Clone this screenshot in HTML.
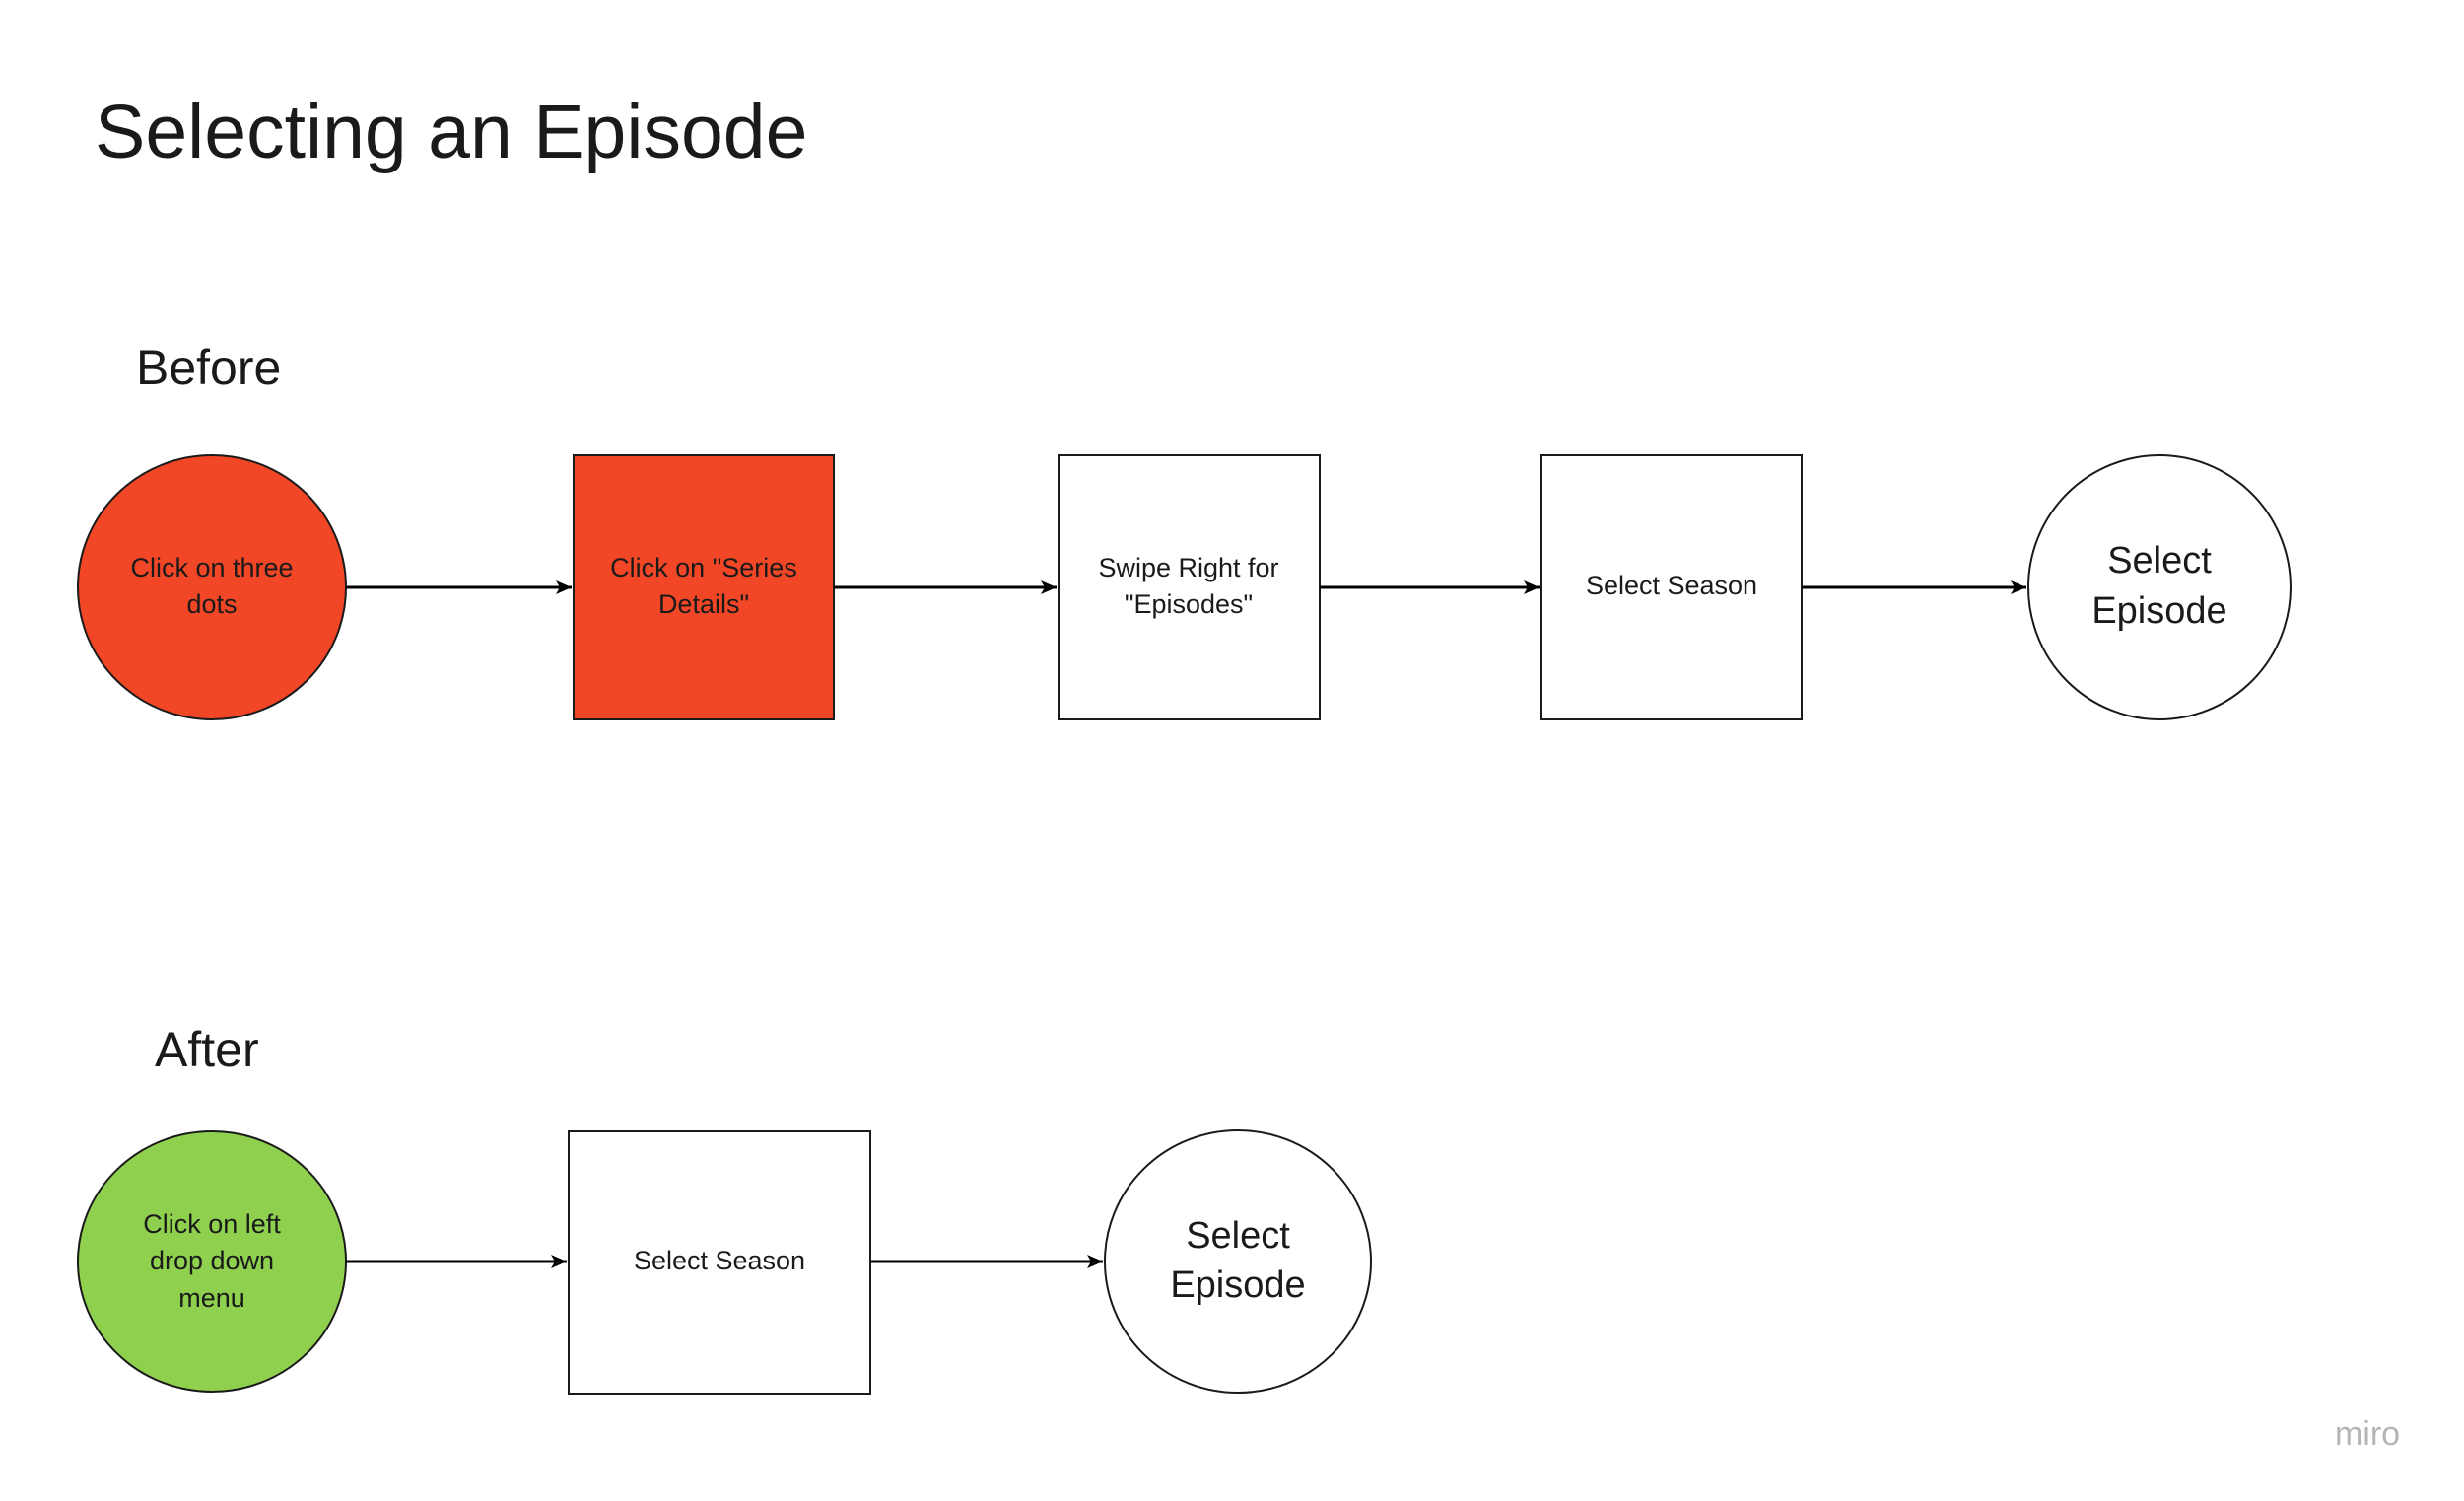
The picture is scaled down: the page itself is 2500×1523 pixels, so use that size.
<!DOCTYPE html>
<html><head><meta charset="utf-8"><style>
html,body{margin:0;padding:0;background:#fff;}
body{width:2500px;height:1523px;position:relative;overflow:hidden;font-family:"Liberation Sans",sans-serif;color:#1a1a1a;}
</style></head><body>
<svg width="2500" height="1523" viewBox="0 0 2500 1523" xmlns="http://www.w3.org/2000/svg" style="position:absolute;left:0;top:0">
<defs><marker id="b" markerWidth="16" markerHeight="14" refX="16" refY="7" orient="auto" markerUnits="userSpaceOnUse"><path d="M0,0 L16,7 L0,14 L4,7 Z" fill="#000"/></marker></defs>
<g font-family="Liberation Sans, sans-serif" fill="#1a1a1a">
<text x="96" y="160" font-size="77">Selecting an Episode</text>
<text x="138" y="390" font-size="50">Before</text>
<text x="157" y="1082" font-size="50">After</text>
</g>
<g stroke="#1a1a1a" stroke-width="2">
<ellipse cx="215" cy="596" rx="136" ry="134" fill="#f24726"/>
<rect x="582" y="462" width="264" height="268" fill="#f24726"/>
<rect x="1074" y="462" width="265" height="268" fill="#fff"/>
<rect x="1564" y="462" width="264" height="268" fill="#fff"/>
<ellipse cx="2191" cy="596" rx="133" ry="134" fill="#fff"/>
<ellipse cx="215" cy="1280" rx="136" ry="132" fill="#8fd14f"/>
<rect x="577" y="1148" width="306" height="266" fill="#fff"/>
<ellipse cx="1256" cy="1280" rx="135" ry="133" fill="#fff"/>
</g>
<g stroke="#000" stroke-width="3" marker-end="url(#b)">
<line x1="351" y1="596" x2="580" y2="596"/>
<line x1="846" y1="596" x2="1072" y2="596"/>
<line x1="1339" y1="596" x2="1562" y2="596"/>
<line x1="1828" y1="596" x2="2056" y2="596"/>
<line x1="351" y1="1280" x2="575" y2="1280"/>
<line x1="883" y1="1280" x2="1119" y2="1280"/>
</g>
<g font-family="Liberation Sans, sans-serif" font-size="27" text-anchor="middle" fill="#1a1a1a">
<text x="215" y="585">Click on three</text><text x="215" y="622">dots</text>
<text x="714" y="585">Click on "Series</text><text x="714" y="622">Details"</text>
<text x="1206" y="585">Swipe Right for</text><text x="1206" y="622">"Episodes"</text>
<text x="1696" y="603">Select Season</text>
<text x="215" y="1251">Click on left</text><text x="215" y="1288">drop down</text><text x="215" y="1326">menu</text>
<text x="730" y="1288">Select Season</text>
<text x="2191" y="581" font-size="38">Select</text><text x="2191" y="632" font-size="38">Episode</text>
<text x="1256" y="1266" font-size="38">Select</text><text x="1256" y="1316" font-size="38">Episode</text>
<text x="2402" y="1466" font-size="34" fill="#b5b5b5">miro</text>
</g>
</svg>
</body></html>
